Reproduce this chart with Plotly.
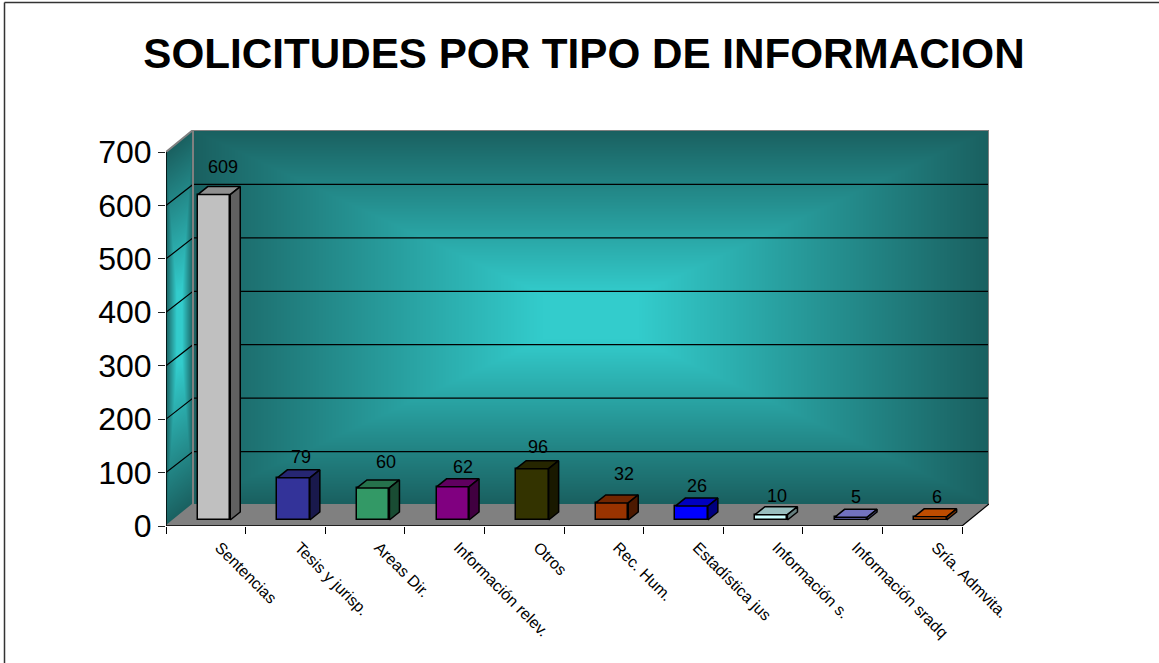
import base64, struct, zlib
import numpy as np
import plotly.graph_objects as go

categories = ["Sentencias", "Tesis y jurisp.", "Areas Dir.", "Información relev.", "Otros",
              "Rec. Hum.", "Estadística jus", "Información s.", "Información sradq", "Sría. Admvita."]
values = [609, 79, 60, 62, 96, 32, 26, 10, 5, 6]
y_ticks = [0, 100, 200, 300, 400, 500, 600, 700]
front_colors = ["#C0C0C0", "#333399", "#339966", "#800080", "#333300",
                "#993300", "#0000FF", "#CCFFFF", "#9999FF", "#FF6600"]
label_nudge_x = [0.113, 0.093, 0.161, 0.128, 0.07, 0.151, 0.068, 0.073, 0.065, 0.083]
label_nudge_y = [34, 22, 30, 20, 22, 37, 19, 18, 21, 20]

# Oblique projection, expressed in axis units
W, H = 1159, 663
PLOT_L, PLOT_R, PLOT_T, PLOT_B = 166, 989, 130, 526
PX_X = 79.6                 # px per category
PX_Y = 374 / 700            # px per value unit
WALL_DX, WALL_DY = 27 / PX_X, 22 / PX_Y
GRID_DY = 21 / PX_Y
BAR_SHIFT_X, BAR_BASE = 8.2 / PX_X, 6 / PX_Y
BAR_W = 32.5 / PX_X
BAR_DX, BAR_DY = 10 / PX_X, 8 / PX_Y
X0, X1 = -0.5, 9.5
XMAX = X1 + WALL_DX
YMAX = 700 + WALL_DY


def shade(hex_color, k):
    r, g, b = [int(hex_color[i:i + 2], 16) for i in (1, 3, 5)]
    return f"rgb({int(r * k)},{int(g * k)},{int(b * k)})"


def backdrop_png():
    w, h = PLOT_R - PLOT_L, PLOT_B - PLOT_T
    dx, dy = 27, 22
    xx, yy = np.meshgrid(np.arange(w) + 0.5, np.arange(h) + 0.5)
    hi = np.array([51, 204, 204.0])
    lo = np.array([26, 96, 96.0])
    img = np.zeros((h, w, 4))

    def ramp(u, v, p):
        d = np.maximum(np.abs(u - 0.5), np.abs(v - 0.5)) * 2
        t = np.clip((d - p) / (1 - p), 0, 1)[..., None]
        return hi * (1 - t) + lo * t

    back = (xx >= dx) & (yy <= h - dy)
    col = ramp((xx - dx) / (w - dx), yy / (h - dy), 0.12)
    img[back, :3] = col[back]
    img[back, 3] = 255

    u = xx / dx
    v = (yy - dy * (1 - u)) / (h - dy)
    left = (xx < dx) & (v >= 0) & (v <= 1)
    col = ramp(u, v, 0.2)
    img[left, :3] = col[left]
    img[left, 3] = 255

    s = (h - yy) / dy
    floor = (yy > h - dy) & (xx >= dx * s) & (xx <= w - dx + dx * s)
    img[floor, :3] = 128
    img[floor, 3] = 255

    arr = img.astype(np.uint8)
    raw = b"".join(b"\x00" + arr[i].tobytes() for i in range(h))

    def chunk(tag, data):
        return struct.pack(">I", len(data)) + tag + data + struct.pack(">I", zlib.crc32(tag + data) & 0xffffffff)

    png = b"\x89PNG\r\n\x1a\n" + chunk(b"IHDR", struct.pack(">IIBBBBB", w, h, 8, 6, 0, 0, 0)) \
        + chunk(b"IDAT", zlib.compress(raw, 9)) + chunk(b"IEND", b"")
    return "data:image/png;base64," + base64.b64encode(png).decode()


def path(xs, ys, color="black", width=1.2):
    d = "M" + " L".join(f"{x},{y}" for x, y in zip(xs, ys))
    return dict(type="path", path=d, xref="x", yref="y", layer="between",
                line=dict(color=color, width=width))


def poly(xs, ys, fill):
    return go.Scatter(x=xs + xs[:1], y=ys + ys[:1], mode="lines", fill="toself", fillcolor=fill,
                      line=dict(color="black", width=1.5), hoverinfo="skip", showlegend=False)


shapes = []
# gridlines across the left and back walls
for v in y_ticks[1:-1]:
    shapes.append(path([X0, X0 + WALL_DX, XMAX], [v, v + GRID_DY, v + GRID_DY]))
# frame of the walls
shapes.append(path([X0 + WALL_DX, X0 + WALL_DX], [WALL_DY, YMAX], "#808080", 2))
shapes.append(path([X0, X0 + WALL_DX, XMAX, XMAX], [700, YMAX, YMAX, WALL_DY], "#808080", 2))
shapes.append(path([X0, X0 + WALL_DX], [0, WALL_DY], "#808080", 1.5))
shapes.append(path([X1, XMAX], [0, WALL_DY], "black", 1.2))
shapes.append(path([X0, X0], [0, 700], "black", 1.5))
shapes.append(path([X0, X1], [0, 0], "black", 1.5))
# outer chart frame
shapes.append(dict(type="line", xref="paper", yref="paper",
                   x0=(4.5 - PLOT_L) / (PLOT_R - PLOT_L), x1=(4.5 - PLOT_L) / (PLOT_R - PLOT_L),
                   y0=(PLOT_B - H) / (PLOT_B - PLOT_T), y1=(PLOT_B - 2.5) / (PLOT_B - PLOT_T),
                   line=dict(color="#333333", width=1.5)))
shapes.append(dict(type="line", xref="paper", yref="paper",
                   x0=(4.5 - PLOT_L) / (PLOT_R - PLOT_L), x1=(W - PLOT_L) / (PLOT_R - PLOT_L),
                   y0=(PLOT_B - 2.5) / (PLOT_B - PLOT_T), y1=(PLOT_B - 2.5) / (PLOT_B - PLOT_T),
                   line=dict(color="#333333", width=1.5)))

fig = go.Figure()

# front faces
xs = np.arange(len(values), dtype=float)
fig.add_trace(go.Bar(x=xs + BAR_SHIFT_X, y=values, base=[BAR_BASE] * len(values), width=BAR_W,
                     marker=dict(color=front_colors, line=dict(color="black", width=1.5)),
                     hoverinfo="skip", showlegend=False))

# top and side faces
for i, (v, c) in enumerate(zip(values, front_colors)):
    l = i + BAR_SHIFT_X - BAR_W / 2
    r = i + BAR_SHIFT_X + BAR_W / 2
    b = BAR_BASE
    t = BAR_BASE + v
    fig.add_trace(poly([l, r, r + BAR_DX, l + BAR_DX], [t, t, t + BAR_DY, t + BAR_DY], shade(c, 0.75)))
    fig.add_trace(poly([r, r + BAR_DX, r + BAR_DX, r], [b, b + BAR_DY, t + BAR_DY, t], shade(c, 0.5)))

# value labels
fig.add_trace(go.Scatter(
    x=[i + BAR_SHIFT_X + n for i, n in enumerate(label_nudge_x)],
    y=[BAR_BASE + v + BAR_DY + n for v, n in zip(values, label_nudge_y)],
    text=[str(v) for v in values], mode="text", textposition="middle center",
    textfont=dict(family="Liberation Sans", size=18, color="black"),
    hoverinfo="skip", showlegend=False))

fig.update_layout(
    width=W, height=H, autosize=False,
    margin=dict(l=PLOT_L, r=W - PLOT_R, t=PLOT_T, b=H - PLOT_B, pad=0),
    paper_bgcolor="white", plot_bgcolor="rgba(0,0,0,0)",
    showlegend=False,
    bargap=0,
    title=dict(text="<b>SOLICITUDES POR TIPO DE INFORMACION</b>", x=584 / W, xanchor="center",
               y=1 - 53 / H, yanchor="middle",
               font=dict(family="Liberation Sans", size=42.2, color="black")),
    xaxis=dict(range=[X0, XMAX], showgrid=False, zeroline=False, showline=False,
               tickmode="array", tickvals=list(xs + 0.175), ticktext=categories,
               tickangle=45, ticks="", ticklabelstandoff=8,
               tickfont=dict(family="Liberation Sans", size=16, color="black"),
               minor=dict(tickmode="array", tickvals=[i - 0.5 for i in range(len(values) + 1)],
                          ticks="outside", ticklen=7, tickwidth=1.2, tickcolor="black", showgrid=False)),
    yaxis=dict(range=[0, YMAX], showgrid=False, zeroline=False, showline=False,
               tickmode="array", tickvals=y_ticks, ticks="outside", ticklen=7, tickwidth=1.2,
               tickcolor="#222222", tickfont=dict(family="Liberation Sans", size=32, color="black")),
    images=[dict(source=backdrop_png(), xref="x", yref="y", x=X0, y=YMAX, sizex=XMAX - X0, sizey=YMAX,
                 sizing="stretch", xanchor="left", yanchor="top", layer="below")],
    shapes=shapes,
)
fig.write_html("out.html", config=dict(displayModeBar=False),
               post_script="document.body.style.margin='0';document.documentElement.style.overflow='hidden';")
